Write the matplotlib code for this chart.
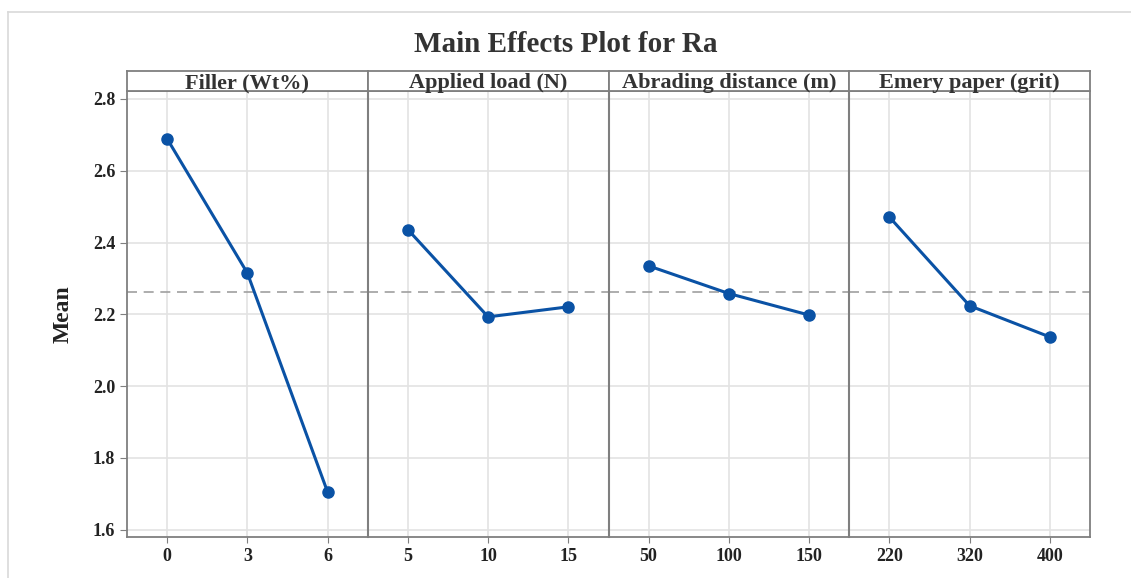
import matplotlib
matplotlib.use("Agg")
import matplotlib.pyplot as plt
from matplotlib.lines import Line2D

plt.rcParams['font.family'] = ['Liberation Serif', 'DejaVu Serif']
plt.rcParams['font.weight'] = 'bold'

factors = ["Filler (Wt%)", "Applied load (N)", "Abrading distance (m)", "Emery paper (grit)"]
levels = [["0", "3", "6"], ["5", "10", "15"], ["50", "100", "150"], ["220", "320", "400"]]
means = [
    [2.689, 2.315, 1.705],
    [2.436, 2.193, 2.221],
    [2.335, 2.258, 2.198],
    [2.471, 2.224, 2.137],
]
grand_mean = 2.262
yticks = [1.6, 1.8, 2.0, 2.2, 2.4, 2.6, 2.8]

fig = plt.figure(figsize=(11.31, 5.78), dpi=100)

# light outer frame
fig.add_artist(Line2D([8/1131, 1.0], [1 - 12/578, 1 - 12/578], color="#d9d9d9", lw=1.2))
fig.add_artist(Line2D([8/1131, 8/1131], [0, 1 - 12/578], color="#d9d9d9", lw=1.2))

left = 127/1131
pw = (1090 - 127) / 4 / 1131
bottom = 1 - 537/578
height = (537 - 91) / 578
strip_h = 20/578
edge = "#7f7f7f"

for i in range(4):
    ax = fig.add_axes([left + i*pw, bottom, pw, height])
    x = list(range(len(levels[i])))
    ax.axhline(grand_mean, color="#a0a0a0", ls=(0, (6, 4)), lw=1.2, zorder=1)
    ax.plot(x, means[i], color="#0a52a5", lw=2.2, marker="o", ms=8, zorder=3)
    ax.set_xlim(-0.5, 2.5)
    ax.set_ylim(1.58, 2.822)
    ax.set_xticks(x)
    ax.set_xticklabels(levels[i], fontsize=13, fontweight="bold", color="#222222")
    ax.set_yticks(yticks)
    ax.grid(True, color="#e3e3e3", lw=1.2, zorder=0)
    ax.set_axisbelow(True)
    for s in ax.spines.values():
        s.set_color(edge)
        s.set_linewidth(1.3)
    if i == 0:
        ax.set_yticklabels([f"{v:.1f}" for v in yticks], fontsize=13, fontweight="bold", color="#222222")
        ax.set_ylabel("Mean", fontsize=17, fontweight="bold", labelpad=14, color="#222222")
        ax.tick_params(axis="y", length=5, color=edge)
    else:
        ax.tick_params(axis="y", length=0, labelleft=False)
        ax.spines["left"].set_linewidth(1.5)
    ax.tick_params(axis="x", length=4, color=edge, pad=4)
    # strip header
    sax = fig.add_axes([left + i*pw, bottom + height, pw, strip_h])
    sax.set_xticks([])
    sax.set_yticks([])
    for s in sax.spines.values():
        s.set_color(edge)
        s.set_linewidth(1.3)
    sax.text(0.5, 0.4, factors[i], ha="center", va="center", fontsize=16,
             fontweight="bold", color="#333333", transform=sax.transAxes)

fig.text(0.5, 1 - 44/578, "Main Effects Plot for Ra", ha="center", va="center",
         fontsize=21, fontweight="bold", color="#333333")

fig.savefig("out.png", dpi=100)
